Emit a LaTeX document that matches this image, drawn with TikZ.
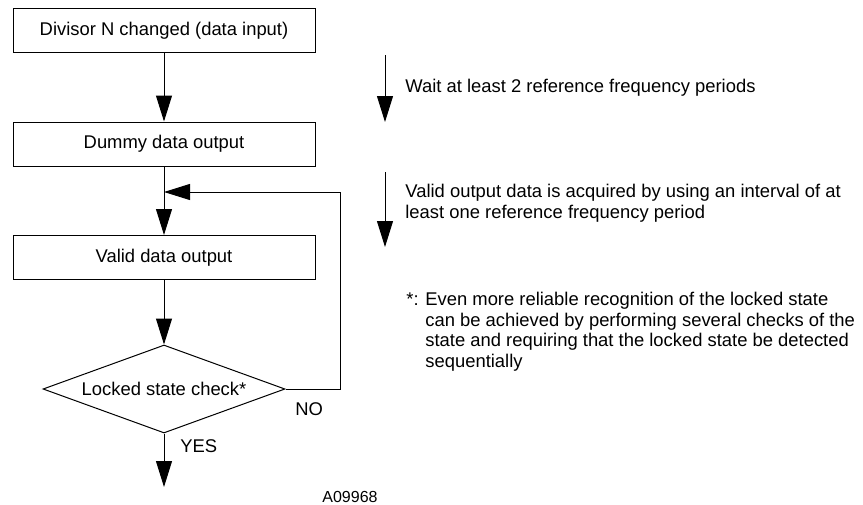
\documentclass[tikz,border=0pt]{standalone}
\usepackage{fontspec}
\setmainfont{Liberation Sans}
\usetikzlibrary{arrows.meta, positioning, shapes.geometric}
\newcommand{\diagfont}{\fontsize{9.2pt}{10.25pt}\selectfont}
\tikzset{
    box/.style={
        draw,
        line width=0.5pt,
        minimum width=151pt,
        minimum height=22pt,
        align=center
    },
    decision/.style={
        draw,
        diamond,
        line width=0.5pt,
        aspect=2.75,
        inner sep=0pt,
        minimum width=121pt,
        minimum height=44pt
    },
    line/.style={-{Triangle[length=13pt, width=8pt]}, line width=0.5pt},
    note/.style={align=left, inner sep=0pt},
    plain/.style={inner sep=0pt},
    tinylabel/.style={inner sep=0pt, font=\fontsize{8pt}{9.6pt}\selectfont},
    every node/.style={font=\diagfont}
}

\begin{document}
\begin{tikzpicture}[x=0.5pt, y=-0.5pt]
\useasboundingbox (0,0) rectangle (863,504);

% flow
\node[box] (chg) at (164,30.5) {Divisor N changed (data input)};
\node[box] (dummy) at (164,144) {Dummy data output};
\node[box] (valid) at (164,257.5) {Valid data output};
\node[decision] (check) at (164,389) {Locked state check*};
\coordinate (loop) at (340,192);
\coordinate (exit) at (164,487);

\draw[line] (chg) -- (dummy);
\draw[line] (dummy) -- (valid);
\draw[line] (valid) -- (check);
\draw[line] (check) -- (exit);
\draw[line] (check.east) -| (loop) -- (dummy.south |- loop);

\node[plain, anchor=base west] (no) at (295,415) {NO};
\node[plain, anchor=base west] (yes) at (180,452) {YES};

% timing notes
\coordinate (w1a) at (385,55);
\coordinate (w1b) at (385,122);
\coordinate (w2a) at (385,172);
\coordinate (w2b) at (385,247);
\draw[line] (w1a) -- (w1b);
\draw[line] (w2a) -- (w2b);
\node[plain, anchor=base west] (wait) at (405,92) {Wait at least 2 reference frequency periods};
\node[note, anchor=north west] (interval) at (405,184) {Valid output data is acquired by using an interval of at\\least one reference frequency period};

% footnote
\node[plain, anchor=base west] (star) at (406,305) {*:};
\node[note, anchor=north west] (reliable) at (425,292) {Even more reliable recognition of the locked state\\can be achieved by performing several checks of the\\state and requiring that the locked state be detected\\sequentially};

\node[tinylabel, anchor=base west] (figid) at (322,502) {A09968};
\end{tikzpicture}
\end{document}
